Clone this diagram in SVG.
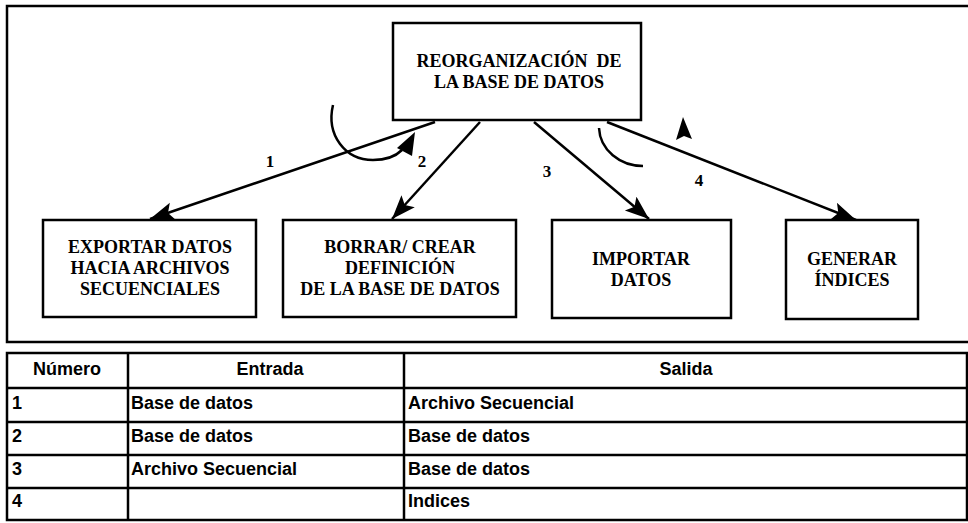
<svg xmlns="http://www.w3.org/2000/svg" width="968" height="523" viewBox="0 0 968 523">
<defs>
<marker id="ah" markerUnits="userSpaceOnUse" markerWidth="26" markerHeight="20" refX="24" refY="9" orient="auto">
<path d="M0,0 L24,9 L0,18 L5,9 Z" fill="#000"/>
</marker>
<style>
.box{fill:#fff;stroke:#000;stroke-width:2.5}
.lbl{font-family:"Liberation Serif","Times New Roman",serif;font-weight:bold;font-size:18px;text-anchor:middle;fill:#000}
.num{font-family:"Liberation Serif","Times New Roman",serif;font-weight:bold;font-size:17px;text-anchor:middle;fill:#000}
.edge{fill:none;stroke:#000;stroke-width:2.5}
.arc{fill:none;stroke:#000;stroke-width:2.5}
.grid{fill:none;stroke:#000;stroke-width:2.5}
.tt{font-family:"Liberation Sans",Arial,sans-serif;font-weight:bold;font-size:18px;fill:#000}
.th{font-family:"Liberation Sans",Arial,sans-serif;font-weight:bold;font-size:18px;fill:#000;text-anchor:middle}
</style>
</defs>
<rect x="0" y="0" width="968" height="523" fill="#fff"/>
<path class="grid" d="M975,6 L7,6 L7,342 L975,342"/>

<g id="connectors">
<line class="edge" x1="435" y1="122" x2="150" y2="219" marker-end="url(#ah)"/>
<line class="edge" x1="480" y1="122" x2="392" y2="219" marker-end="url(#ah)"/>
<line class="edge" x1="534" y1="122" x2="649" y2="219" marker-end="url(#ah)"/>
<line class="edge" x1="607" y1="122" x2="856" y2="220" marker-end="url(#ah)"/>
<path class="arc" d="M333,105 C326,135 345,160 373,160 C386,160 396,156 402,150"/>
<polygon points="415,132 397,148 412,156" fill="#000"/>
<path class="arc" d="M599,128 C600,150 620,166 643,166"/>
<polygon points="683,117 676,140 684,136 692,139" fill="#000"/>
<text class="num" x="270" y="167">1</text>
<text class="num" x="422" y="167">2</text>
<text class="num" x="547" y="177">3</text>
<text class="num" x="699" y="186">4</text>
</g>

<g id="n-reorg">
<rect class="box" x="393" y="23" width="248" height="97"/>
<text class="lbl" x="519" y="67">REORGANIZACIÓN&#160; DE</text>
<text class="lbl" x="519" y="88">LA BASE DE DATOS</text>
</g>
<g id="n-exportar">
<rect class="box" x="43" y="220" width="213" height="97"/>
<text class="lbl" x="150" y="253">EXPORTAR DATOS</text>
<text class="lbl" x="150" y="274">HACIA ARCHIVOS</text>
<text class="lbl" x="150" y="295">SECUENCIALES</text>
</g>
<g id="n-borrar">
<rect class="box" x="283" y="220" width="233" height="97"/>
<text class="lbl" x="400" y="253">BORRAR/ CREAR</text>
<text class="lbl" x="400" y="274">DEFINICIÓN</text>
<text class="lbl" x="400" y="295">DE LA BASE DE DATOS</text>
</g>
<g id="n-importar">
<rect class="box" x="552" y="220" width="179" height="98"/>
<text class="lbl" x="641" y="265">IMPORTAR</text>
<text class="lbl" x="641" y="286">DATOS</text>
</g>
<g id="n-generar">
<rect class="box" x="786" y="220" width="132" height="99"/>
<text class="lbl" x="852" y="265">GENERAR</text>
<text class="lbl" x="852" y="286">ÍNDICES</text>
</g>

<g id="table">
<rect class="grid" x="7" y="353" width="960" height="167"/>
<line class="grid" x1="7" y1="388" x2="967" y2="388"/>
<line class="grid" x1="7" y1="422" x2="967" y2="422"/>
<line class="grid" x1="7" y1="455" x2="967" y2="455"/>
<line class="grid" x1="7" y1="488" x2="967" y2="488"/>
<line class="grid" x1="128" y1="353" x2="128" y2="520"/>
<line class="grid" x1="404" y1="353" x2="404" y2="520"/>
<text class="th" x="67" y="375">Número</text>
<text class="th" x="270" y="375">Entrada</text>
<text class="th" x="686" y="375">Salida</text>
<text class="tt" x="12" y="409">1</text>
<text class="tt" x="131" y="409">Base de datos</text>
<text class="tt" x="408" y="409">Archivo Secuencial</text>
<text class="tt" x="12" y="442">2</text>
<text class="tt" x="131" y="442">Base de datos</text>
<text class="tt" x="408" y="442">Base de datos</text>
<text class="tt" x="12" y="475">3</text>
<text class="tt" x="131" y="475">Archivo Secuencial</text>
<text class="tt" x="408" y="475">Base de datos</text>
<text class="tt" x="12" y="507">4</text>
<text class="tt" x="408" y="507">Indices</text>
</g>
</svg>
